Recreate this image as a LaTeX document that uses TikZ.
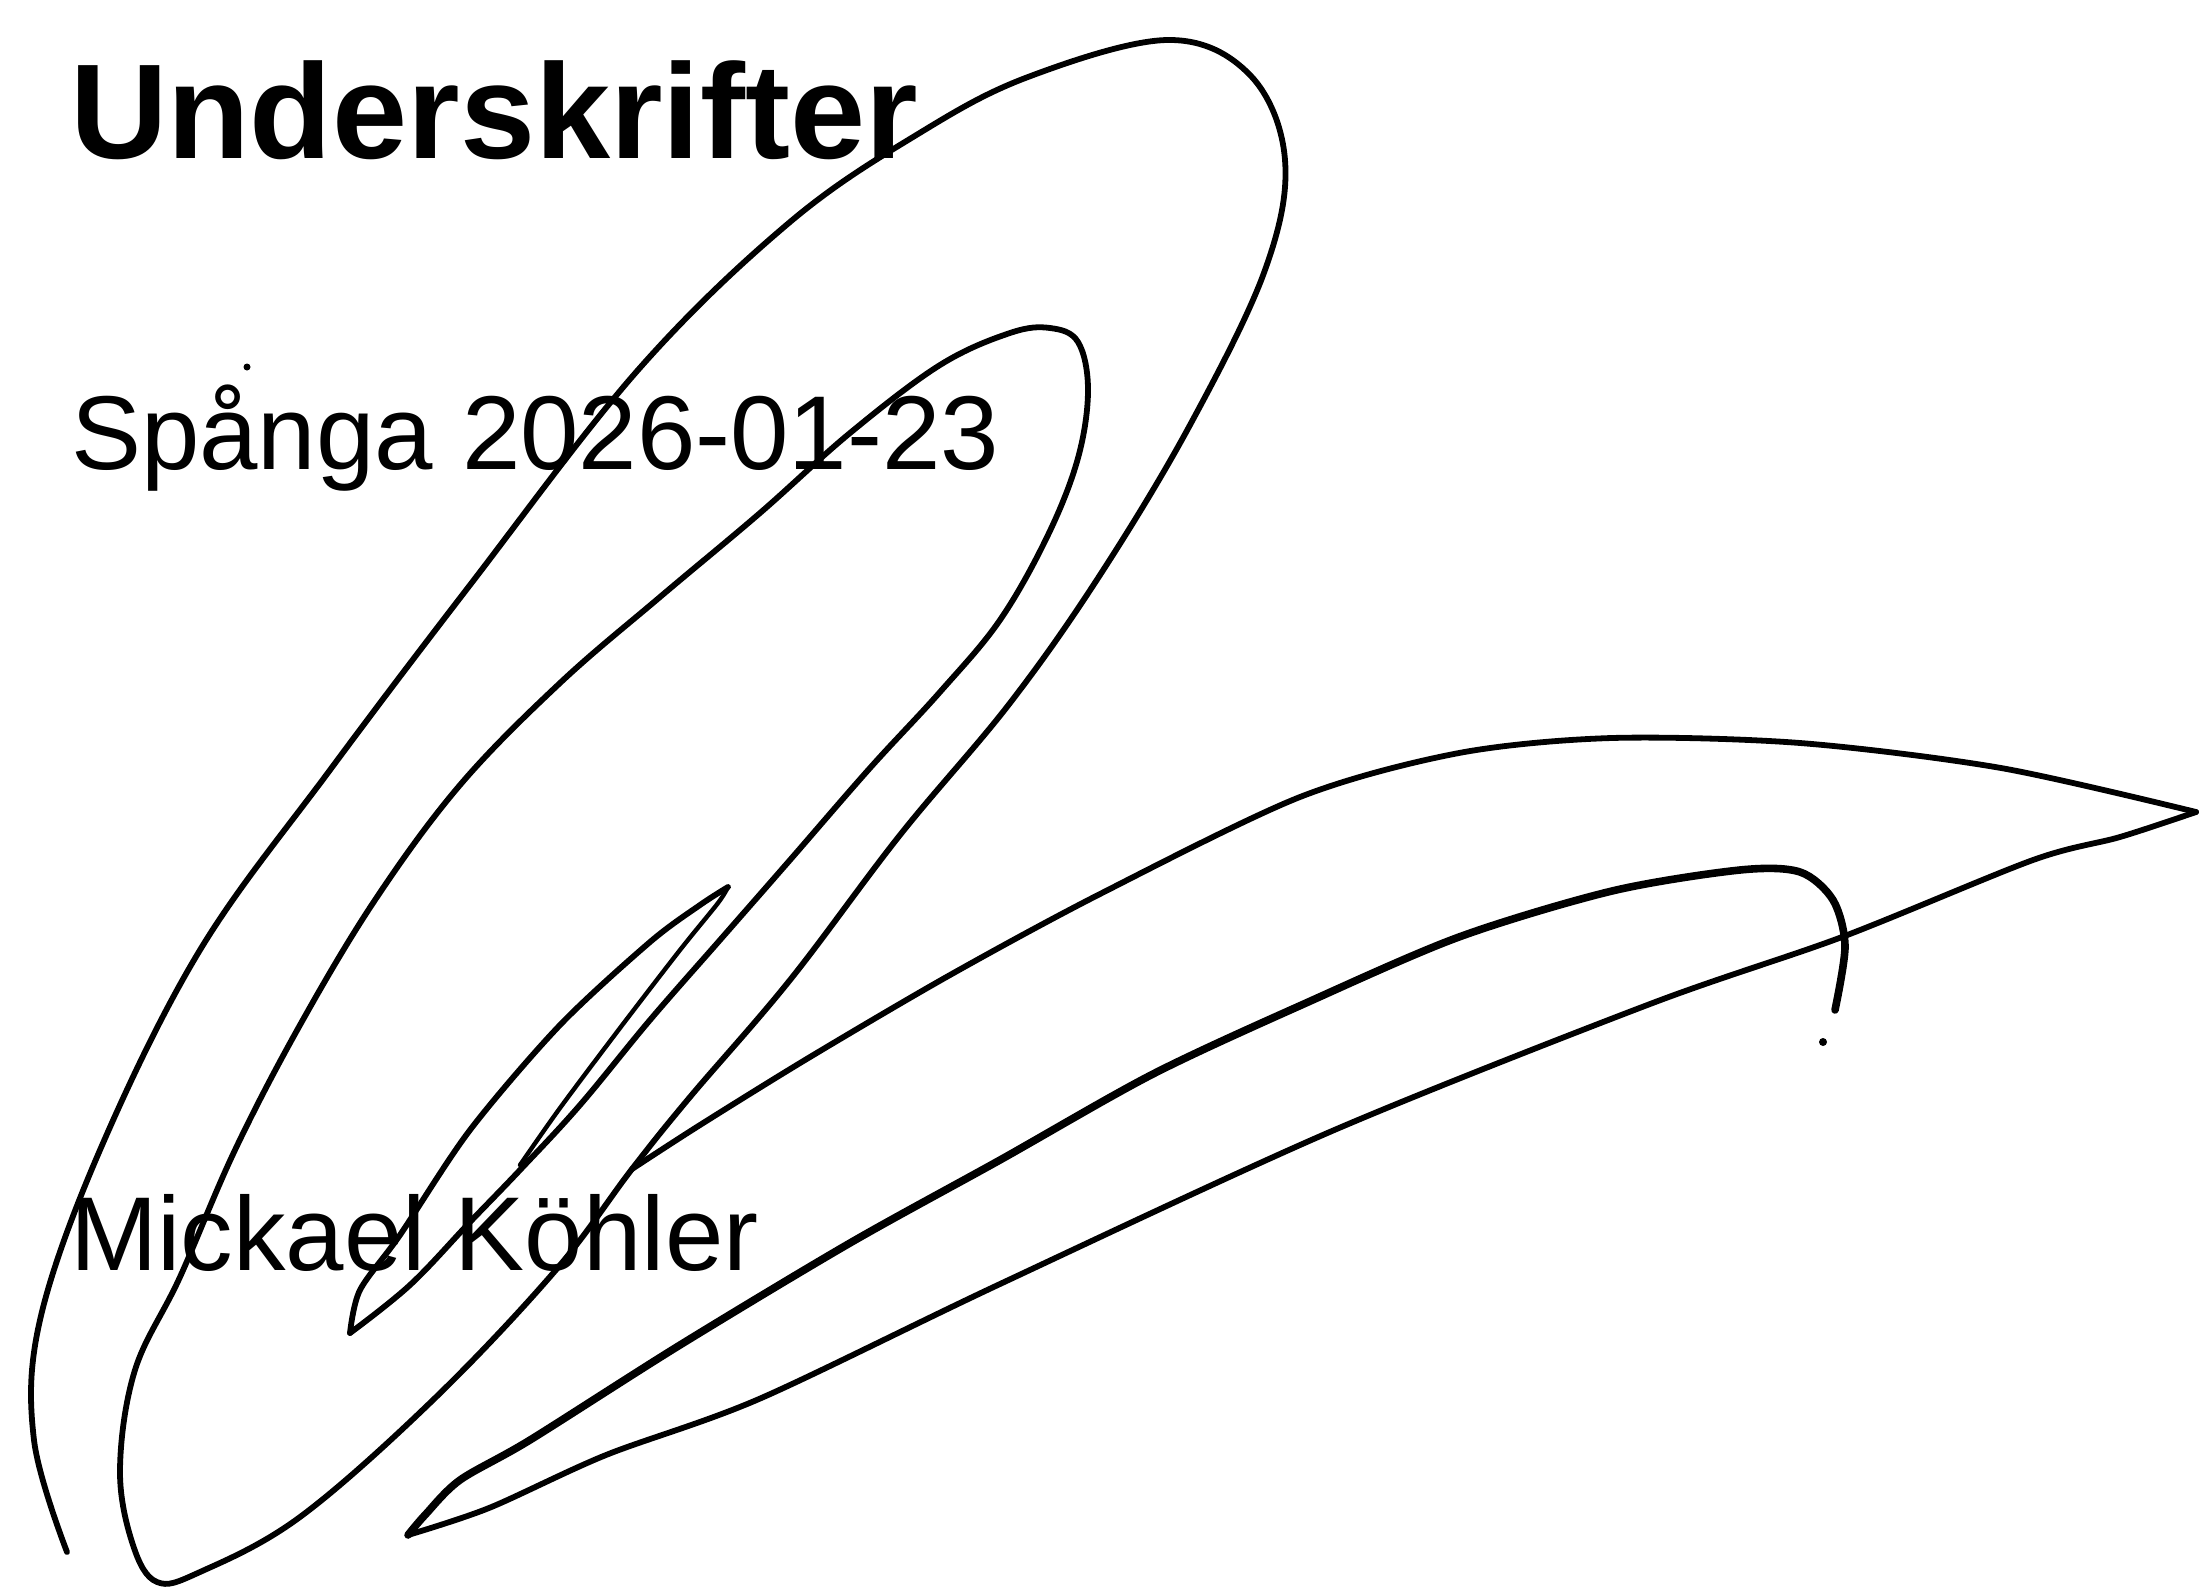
\documentclass[tikz,border=0pt]{standalone}
\usepackage{fontspec}
\setmainfont{Liberation Sans}
\begin{document}
\begin{tikzpicture}[x=0.5pt,y=-0.5pt,
  sig/.style={draw=black, line width=2.9pt, line cap=round, line join=round},
  sigthick/.style={sig, line width=3.8pt},
  lbl/.style={anchor=base west, inner sep=0pt, outer sep=0pt, text=black},
  titlefont/.style={font=\fontsize{67.5}{80}\selectfont\bfseries},
  bodyfont/.style={font=\fontsize{52.5}{62}\selectfont}]
\useasboundingbox[fill=white] (0,0) rectangle (2204,1589);

% texts
\node[lbl, titlefont] (title) at (70,159) {Underskrifter};
\node[lbl, bodyfont] (place) at (71,469) {Spånga 2026-01-23};
\node[lbl, bodyfont] (name) at (70,1270) {Mickael Köhler};

% signature: main loops
\draw[sig] plot[smooth, tension=0.6] coordinates {
 (67,1552) (34,1440) (40,1320) (100,1150) (200,950) (330,770) (470,585) (638,370)
 (790,222) (918,134) (1028,77) (1168,40) (1250,75) (1285,160) (1265,270)
 (1190,425) (1100,575) (1010,703) (900,835) (790,980) (690,1097) (632,1169)
 (555,1271) (433,1400) (300,1517) (200,1572) (157,1582) (133,1545) (120,1470)
 (135,1370) (180,1277) (235,1150) (300,1025) (375,900) (460,785) (560,683)
 (660,597) (760,513) (850,433) (940,365) (1010,333) (1050,328) (1078,342)
 (1088,390) (1078,458) (1048,535) (1000,620) (940,692) (870,768) (790,860)
 (720,940) (650,1020) (580,1105) (520,1170) (470,1222) (410,1285) (350,1333)};

% narrow loop
\draw[sig] plot[smooth, tension=0.5] coordinates {
 (350,1333) (360,1290) (400,1235) (470,1130) (560,1025) (650,942) (700,905)
 (728,887)};
\draw[sig, line width=2.2pt] plot[smooth, tension=0.5] coordinates {
 (728,887) (718,903) (680,950) (620,1028) (560,1108) (520,1165)};

% long tail to the right
\draw[sig] plot[smooth, tension=0.5] coordinates {
 (632,1169) (700,1125) (810,1057) (950,975) (1100,894) (1300,797) (1459,753)
 (1612,738) (1800,743) (2001,768) (2196,812)};
\draw[sig] plot[smooth, tension=0.5] coordinates {
 (2196,812) (2120,837) (2033,860) (1842,937) (1650,1004) (1332,1131) (1000,1284)
 (759,1399) (606,1455) (489,1508) (408,1535)};
\draw[sigthick] plot[smooth, tension=0.5] coordinates {
 (408,1535) (425,1515) (460,1480) (530,1440) (680,1345) (850,1243) (1000,1160)
 (1153,1074) (1306,1003) (1459,937) (1612,891) (1740,870) (1800,872)
 (1833,900) (1845,946) (1835,1010)};

% stray dots
\fill[black] (1823,1042) circle[radius=4];
\fill[black] (247,367) circle[radius=3.5];
\end{tikzpicture}
\end{document}
